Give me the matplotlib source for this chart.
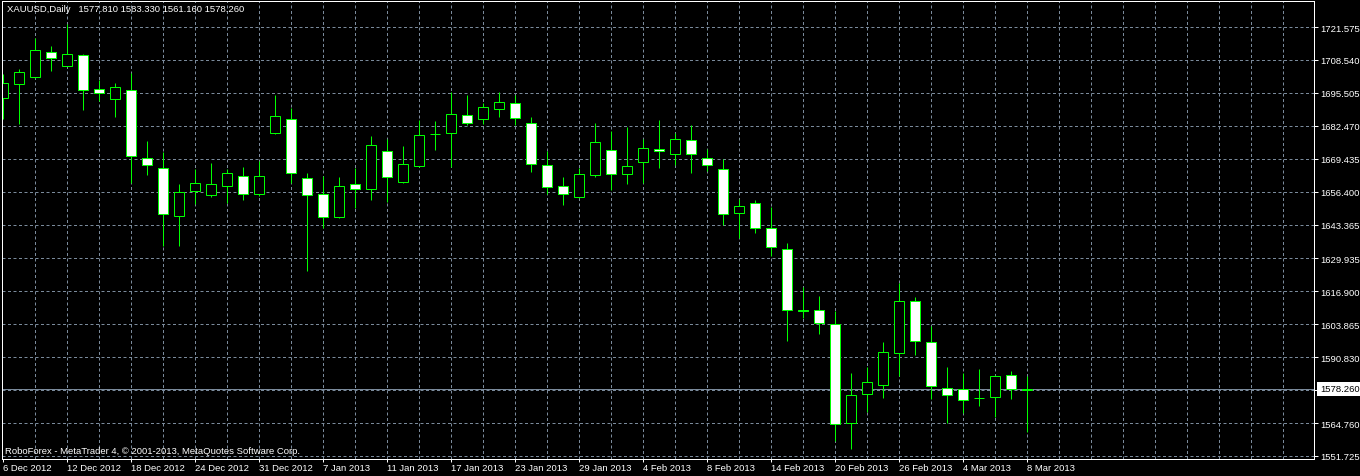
"""
XAUUSD daily candles, MetaTrader 4 look (black chart, green candles).
Values read off the MT4 screenshot, Dec 2012 - Mar 2013.
"""
import pandas as pd
import matplotlib
matplotlib.use("Agg")
import matplotlib.pyplot as plt

# ── data ─────────────────────────────────────────────────────────────────────
dates = pd.bdate_range("2012-12-06", "2013-03-08")
dates = dates[~dates.isin(pd.to_datetime(["2012-12-25", "2013-01-01"]))]

opens = [1693.6, 1699.1, 1701.9, 1711.6, 1706.3, 1710.4, 1696.9, 1693.0, 1696.5, 1669.6,
         1665.6, 1646.6, 1656.5, 1654.9, 1658.5, 1662.5, 1655.3, 1679.5, 1685.0, 1661.7,
         1655.3, 1646.5, 1659.3, 1657.6, 1672.4, 1660.1, 1666.4, 1679.1, 1679.7, 1686.6,
         1685.3, 1689.0, 1691.4, 1683.4, 1666.8, 1658.5, 1654.4, 1662.9, 1672.8, 1663.3,
         1668.0, 1673.2, 1671.4, 1676.7, 1669.6, 1665.2, 1647.8, 1651.8, 1641.9, 1633.6,
         1609.4, 1609.4, 1604.1, 1564.7, 1576.2, 1579.7, 1592.4, 1613.0, 1596.7, 1578.5,
         1578.1, 1574.6, 1575.0, 1583.7, 1577.81]
highs = [1703.0, 1704.9, 1717.3, 1714.1, 1722.8, 1710.9, 1700.7, 1699.4, 1703.4, 1676.4,
         1672.2, 1659.4, 1665.4, 1667.7, 1665.2, 1666.1, 1668.5, 1694.7, 1689.5, 1663.8,
         1662.7, 1662.2, 1665.7, 1678.4, 1677.1, 1674.5, 1684.8, 1684.4, 1696.0, 1694.7,
         1691.6, 1695.8, 1694.7, 1685.9, 1672.4, 1662.2, 1665.6, 1683.6, 1680.4, 1681.9,
         1677.2, 1684.8, 1679.5, 1682.8, 1673.3, 1669.2, 1653.4, 1653.1, 1650.2, 1636.1,
         1618.5, 1615.1, 1609.0, 1584.6, 1587.0, 1596.9, 1620.1, 1614.6, 1603.2, 1587.0,
         1584.5, 1586.0, 1583.9, 1585.3, 1583.33]
lows = [1685.1, 1683.2, 1701.5, 1704.3, 1706.0, 1688.8, 1692.4, 1686.1, 1659.7, 1663.1,
        1635.0, 1635.0, 1651.6, 1654.4, 1652.0, 1653.1, 1654.8, 1679.3, 1659.7, 1625.1,
        1642.1, 1646.1, 1650.0, 1653.1, 1652.4, 1659.7, 1666.2, 1672.9, 1666.3, 1682.9,
        1683.2, 1685.9, 1682.9, 1664.2, 1655.3, 1651.2, 1654.0, 1662.3, 1657.2, 1659.5,
        1659.7, 1665.9, 1667.1, 1663.9, 1664.4, 1643.3, 1638.2, 1640.1, 1631.0, 1597.4,
        1606.4, 1600.1, 1557.5, 1554.5, 1569.3, 1574.7, 1583.5, 1591.8, 1574.2, 1564.7,
        1568.9, 1571.6, 1567.3, 1574.4, 1561.16]
closes = [1699.3, 1703.6, 1712.4, 1709.4, 1710.8, 1696.5, 1695.3, 1697.7, 1670.4, 1666.8,
          1647.4, 1656.1, 1659.7, 1659.3, 1663.7, 1655.3, 1662.5, 1686.2, 1663.7, 1654.9,
          1646.2, 1658.5, 1657.3, 1674.9, 1662.1, 1667.2, 1678.7, 1679.1, 1687.0, 1683.4,
          1689.8, 1691.8, 1685.4, 1667.2, 1658.1, 1655.3, 1663.3, 1675.9, 1663.3, 1666.4,
          1673.5, 1672.4, 1677.1, 1671.2, 1666.8, 1647.4, 1650.6, 1641.9, 1634.4, 1609.4,
          1609.2, 1604.5, 1564.3, 1575.8, 1580.9, 1592.8, 1613.0, 1597.1, 1579.3, 1575.8,
          1573.8, 1574.5, 1583.3, 1578.4, 1578.26]

price_levels = [1721.575, 1708.540, 1695.505, 1682.470, 1669.435, 1656.400, 1643.365,
                1629.935, 1616.900, 1603.865, 1590.830, 1577.795, 1564.760, 1551.725]
bid = 1578.260
symbol = "XAUUSD,Daily"
footer = "RoboForex - MetaTrader 4, \u00a9 2001-2013, MetaQuotes Software Corp."

# ── style ────────────────────────────────────────────────────────────────────
W, H = 1360, 477
GREEN = "#00FF00"
GRID = "#7A8A9B"
PX = 0.72           # one pixel in points at dpi 100
DASH = (0, (3, 2.5))
FS = 6.8

plt.rcParams["font.family"] = ["Liberation Sans", "DejaVu Sans"]

fig = plt.figure(figsize=(W / 100, H / 100), dpi=100, facecolor="black")
ax = fig.add_axes([2 / W, 17 / H, 1312 / W, 458 / H], facecolor="black")

n = len(closes)
x = list(range(n))

# grid + bid line
for lv in price_levels:
    ax.axhline(lv, color=GRID, lw=PX, ls=DASH, zorder=0)
for xi in range(2, 82, 2):
    ax.axvline(xi, color=GRID, lw=PX, ls=DASH, zorder=0)
ax.axhline(bid, color=GRID, lw=PX, zorder=0.5)

# candles: wick first, then body (bull = black body, bear = white body)
ax.vlines(x, lows, highs, color=GREEN, lw=PX, zorder=1)
bottoms = [min(o, c) for o, c in zip(opens, closes)]
heights = [abs(c - o) for o, c in zip(opens, closes)]
fills = ["black" if c > o else "white" for o, c in zip(opens, closes)]
ax.bar(x, heights, bottom=bottoms, width=0.64, color=fills,
       edgecolor=GREEN, linewidth=PX, zorder=2)

ax.set_xlim(-0.081, 81.92)
ax.set_ylim(1550.53, 1731.87)

for s in ax.spines.values():
    s.set_color("white")
    s.set_linewidth(PX)

# x ticks every 4 bars
tick_idx = list(range(0, n, 4))
tick_lab = [f"{d.day} {d.strftime('%b %Y')}" for d in dates[tick_idx]]
ax.set_xticks(tick_idx)
ax.set_xticklabels(tick_lab, ha="left", fontsize=FS, color="white")
ax.tick_params(axis="x", direction="out", length=2.2, width=PX, color="white", pad=0.8)

# right price scale
ax.yaxis.tick_right()
ax.set_yticks(price_levels)
ax.set_yticklabels(["" if abs(lv - bid) < 2 else f"{lv:.3f}" for lv in price_levels],
                   fontsize=FS, color="white")
ax.tick_params(axis="y", direction="out", length=3, width=PX, color="white", pad=1.5)

# bid label
ax.text(1.0046, bid, f"{bid:.3f}", transform=ax.get_yaxis_transform(),
        ha="left", va="center", fontsize=FS, color="black", clip_on=False,
        bbox=dict(boxstyle="square,pad=0.3", fc="white", ec="none"), zorder=5)

# header and footer text
fig.text(7 / W, 1 - 10 / H,
         f"{symbol}   " + " ".join(f"{v:.3f}" for v in
                                    (opens[-1], highs[-1], lows[-1], closes[-1])),
         fontsize=FS, color="white", va="center")
fig.text(5 / W, 1 - 452 / H, footer, fontsize=FS, color="white", va="center")

fig.savefig("out.png", dpi=100, facecolor="black")
